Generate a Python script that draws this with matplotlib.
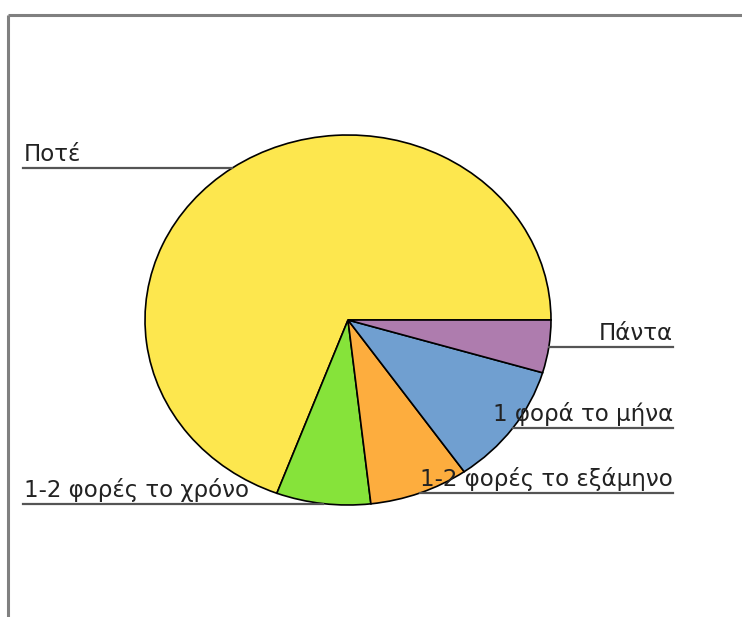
import numpy as np
import matplotlib
matplotlib.use("Agg")
import matplotlib.pyplot as plt

# Survey answers (percent of respondents)
categories = ["Ποτέ", "1-2 φορές το χρόνο", "1-2 φορές το εξάμηνο", "1 φορά το μήνα", "Πάντα"]
values = [69.3, 7.5, 7.9, 10.7, 4.6]
colors = ["#FDE74E", "#86E33A", "#FDAD3E", "#709FD0", "#AE7CAE"]
label_side = ["left", "left", "right", "right", "right"]

W, H, DPI = 742, 617, 100
fig = plt.figure(figsize=(W / DPI, H / DPI), dpi=DPI)
fig.patch.set_facecolor("white")

# full-figure overlay in pixel coordinates (y downwards)
over = fig.add_axes([0, 0, 1, 1], zorder=3)
over.set_xlim(0, W)
over.set_ylim(H, 0)
over.axis("off")
over.patch.set_alpha(0)

# pie axes stretched to give the elliptical pie
pie_left, pie_top, pie_w, pie_h = 145, 135, 406, 370
ax = fig.add_axes([pie_left / W, (H - pie_top - pie_h) / H, pie_w / W, pie_h / H], zorder=2)
wedges, _ = ax.pie(values, colors=colors, startangle=0, counterclock=True,
                   wedgeprops=dict(edgecolor="black", linewidth=1.2))
ax.set_xlim(-1, 1)
ax.set_ylim(-1, 1)
ax.set_aspect("auto")
ax.axis("off")

# outer frame (top and left edges)
over.plot([8, W], [14.5, 14.5], color="#808080", lw=2.2, solid_capstyle="butt")
over.plot([8, 8], [14.5, H], color="#808080", lw=2.2, solid_capstyle="butt")

left_x, right_x = 23, 673
fs = 16.5
fig.canvas.draw()
for w, name, side in zip(wedges, categories, label_side):
    mid = np.deg2rad((w.theta1 + w.theta2) / 2)
    px, py = ax.transData.transform((np.cos(mid), np.sin(mid)))
    py = H - py
    if side == "left":
        over.plot([left_x, px], [py, py], color="#555555", lw=1.6, zorder=1)
        over.text(left_x + 1, py - 7, name, ha="left", va="baseline",
                  fontsize=fs, color="#222222", zorder=5)
    else:
        over.plot([px, right_x], [py, py], color="#555555", lw=1.6, zorder=1)
        over.text(right_x, py - 7, name, ha="right", va="baseline",
                  fontsize=fs, color="#222222", zorder=5)

fig.savefig("out.png", dpi=DPI, facecolor="white")
